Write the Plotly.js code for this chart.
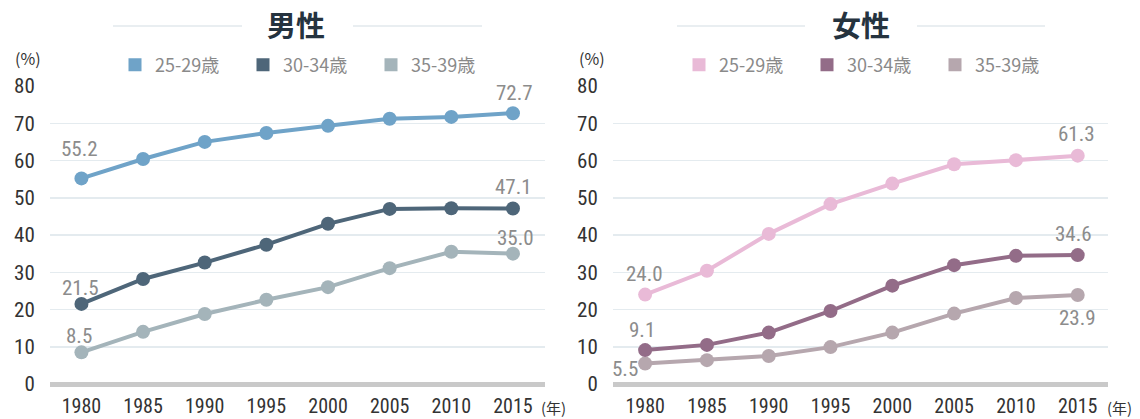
<!DOCTYPE html>
<html>
<head>
<meta charset="utf-8">
<script src="https://cdn.plot.ly/plotly-3.0.1.min.js"></script>
<style>html,body{margin:0;padding:0;background:#fff;}#chart{width:1140px;height:419px;}</style>
</head>
<body>
<div id="chart"></div>
<script>
const years = [1980, 1985, 1990, 1995, 2000, 2005, 2010, 2015];
const ageGroups = ['25-29歳', '30-34歳', '35-39歳'];
const male2529 = [55.2, 60.4, 65.0, 67.4, 69.3, 71.2, 71.7, 72.7];
const male3034 = [21.5, 28.2, 32.6, 37.4, 43.0, 47.0, 47.2, 47.1];
const male3539 = [8.5, 14.0, 18.8, 22.6, 26.0, 31.1, 35.5, 35.0];
const female2529 = [24.0, 30.4, 40.3, 48.3, 53.8, 59.0, 60.1, 61.3];
const female3034 = [9.1, 10.5, 13.8, 19.6, 26.4, 31.9, 34.4, 34.6];
const female3539 = [5.5, 6.4, 7.5, 9.9, 13.8, 18.9, 23.1, 23.9];
const panelTitles = ['男性', '女性'];
const yTicks = [0, 10, 20, 30, 40, 50, 60, 70, 80];

const maleColors = ['#6fa3c8', '#4e6679', '#a4b4ba'];
const femaleColors = ['#e9bad7', '#936c88', '#b6a7ae'];

const NARROW = "'Roboto Condensed', 'Liberation Sans Narrow', 'Arial Narrow', Roboto, sans-serif";
const CJK = "'Noto Sans CJK JP', 'Noto Sans', sans-serif";

// label offsets in px (dx, dy from point centre, dy positive = down) for first and last points
const labelOffsets = {
  m0: [[-2, -29], [2, -20]],
  m1: [[-1, -16], [1, -22]],
  m2: [[-2, -16], [3, -16]],
  f0: [[-1, -21], [-1, -22]],
  f1: [[-3, -20], [-4, -21]],
  f2: [[-20, 5], [0, 23]]
};

const W = 1140, H = 419;
const yPx = p => 1 - p / H;
const xPx = p => p / W;

const series = [
  {key: 'm0', vals: male2529, color: maleColors[0], name: ageGroups[0], xa: 'x', ya: 'y', lg: 'legend'},
  {key: 'm1', vals: male3034, color: maleColors[1], name: ageGroups[1], xa: 'x', ya: 'y', lg: 'legend'},
  {key: 'm2', vals: male3539, color: maleColors[2], name: ageGroups[2], xa: 'x', ya: 'y', lg: 'legend'},
  {key: 'f0', vals: female2529, color: femaleColors[0], name: ageGroups[0], xa: 'x2', ya: 'y2', lg: 'legend2'},
  {key: 'f1', vals: female3034, color: femaleColors[1], name: ageGroups[1], xa: 'x2', ya: 'y2', lg: 'legend2'},
  {key: 'f2', vals: female3539, color: femaleColors[2], name: ageGroups[2], xa: 'x2', ya: 'y2', lg: 'legend2'}
];

const traces = [];
const annotations = [];
series.slice().reverse().forEach(s => {
  traces.push({
    x: years, y: s.vals, type: 'scatter', mode: 'lines+markers',
    xaxis: s.xa, yaxis: s.ya, showlegend: false, cliponaxis: false,
    line: {color: s.color, width: 4},
    marker: {color: s.color, size: 14},
    hoverinfo: 'x+y'
  });
});
series.forEach(s => {
  traces.push({
    x: [null], y: [null], type: 'scatter', mode: 'markers',
    xaxis: s.xa, yaxis: s.ya, name: s.name, legend: s.lg, showlegend: true,
    marker: {color: s.color, size: 13, symbol: 'square'}
  });
  const idx = [0, s.vals.length - 1];
  idx.forEach((i, k) => {
    const off = labelOffsets[s.key][k];
    annotations.push({
      x: years[i], y: s.vals[i], xref: s.xa, yref: s.ya,
      xanchor: 'center', yanchor: 'middle',
      text: s.vals[i].toFixed(1), showarrow: false,
      xshift: off[0], yshift: -off[1],
      font: {family: NARROW, size: 21, color: '#8c8c8c'}
    });
  });
});

const titleX = [296, 861];
const pctX = [28, 592];
const yearX = [553, 1119];
panelTitles.forEach((t, i) => {
  annotations.push({
    x: xPx(titleX[i]), y: yPx(24), xref: 'paper', yref: 'paper', xanchor: 'center', yanchor: 'middle',
    text: t, showarrow: false,
    font: {family: CJK, size: 29, color: '#25333f', weight: 'bold'}
  });
  annotations.push({
    x: xPx(pctX[i]), y: yPx(58), xref: 'paper', yref: 'paper', xanchor: 'center', yanchor: 'middle',
    text: '(%)', showarrow: false,
    font: {family: CJK, size: 16, color: '#333'}
  });
  annotations.push({
    x: xPx(yearX[i]), y: yPx(407), xref: 'paper', yref: 'paper', xanchor: 'center', yanchor: 'middle',
    text: '(年)', showarrow: false,
    font: {family: CJK, size: 15, color: '#333'}
  });
});

const lineSegs = [[113, 242], [353, 482], [677, 805], [917, 1045]];
const shapes = lineSegs.map(s => ({
  type: 'line', xref: 'paper', yref: 'paper',
  x0: xPx(s[0]), x1: xPx(s[1]), y0: yPx(26), y1: yPx(26),
  line: {color: '#e2e8ec', width: 1.5}
}));

const yDomain = [yPx(384), yPx(86)];
const xAxisBase = {
  range: [1977.45, 2017.6], tickvals: years, ticktext: years.map(String),
  showgrid: false, zeroline: false, showline: false, automargin: false,
  ticks: 'outside', ticklen: 4, tickcolor: 'rgba(0,0,0,0)',
  tickfont: {family: NARROW, size: 20, color: '#333'}, fixedrange: true
};
const yAxisBase = {
  range: [0, 80], tickvals: yTicks, domain: yDomain, automargin: false,
  showgrid: true, gridcolor: '#e4ebef', gridwidth: 1.5,
  zeroline: true, zerolinecolor: '#c9c9c9', zerolinewidth: 5,
  showline: false, ticks: 'outside', ticklen: 10, tickcolor: 'rgba(0,0,0,0)',
  tickfont: {family: NARROW, size: 21, color: '#333'}, fixedrange: true
};

const legendBase = {
  orientation: 'h', xanchor: 'left', yanchor: 'middle', y: yPx(65),
  entrywidth: 83, entrywidthmode: 'pixels', bgcolor: 'rgba(0,0,0,0)',
  font: {family: CJK, size: 18, color: '#8a8a8a'}, itemclick: false, itemdoubleclick: false,
  tracegroupgap: 0
};

const layout = {
  width: W, height: H, margin: {l: 0, r: 0, t: 0, b: 0, autoexpand: false},
  paper_bgcolor: '#fff', plot_bgcolor: '#fff', showlegend: true,
  xaxis: Object.assign({}, xAxisBase, {domain: [xPx(50), xPx(545)], anchor: 'y'}),
  xaxis2: Object.assign({}, xAxisBase, {domain: [xPx(613), xPx(1108)], anchor: 'y2', range: [1977.4, 2017.45]}),
  yaxis: Object.assign({}, yAxisBase, {anchor: 'x'}),
  yaxis2: Object.assign({}, yAxisBase, {anchor: 'x2'}),
  legend: Object.assign({}, legendBase, {x: xPx(137 - 22)}),
  legend2: Object.assign({}, legendBase, {x: xPx(701 - 22)}),
  annotations: annotations, shapes: shapes
};

Plotly.newPlot('chart', traces, layout, {displayModeBar: false, staticPlot: true});
</script>
</body>
</html>
